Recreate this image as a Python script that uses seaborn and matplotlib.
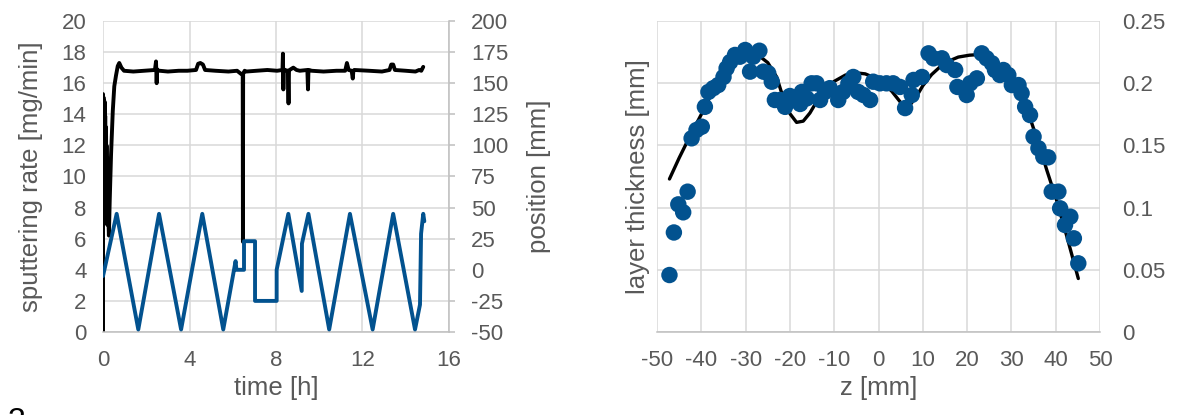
import matplotlib
matplotlib.use("Agg")
import matplotlib.pyplot as plt
import seaborn as sns
import pandas as pd

# ---- left panel: sputtering rate (left axis) and target position (right axis) vs time ----
rate_time = [0.00, 0.00, 0.01, 0.02, 0.03, 0.04, 0.05, 0.06, 0.07, 0.08, 0.09, 0.10,
             0.11, 0.12, 0.13, 0.14, 0.15, 0.16, 0.17, 0.18, 0.19, 0.20, 0.21, 0.22,
             0.27, 0.31, 0.37, 0.45, 0.52, 0.60, 0.68, 0.75, 0.85, 0.97,
             1.40, 1.90, 2.40, 2.45, 2.48, 2.50, 2.55, 2.62, 3.00, 3.50, 3.90,
             4.30, 4.40, 4.50, 4.62, 4.72, 5.20, 5.80, 6.20, 6.38, 6.46, 6.47, 6.48,
             6.55, 6.62, 7.10, 7.60, 8.05, 8.30, 8.32, 8.34, 8.36, 8.40, 8.55, 8.58,
             8.60, 8.63, 8.80, 8.95, 9.10, 9.45, 9.48, 9.50, 9.53, 9.65, 10.20, 10.80,
             11.20, 11.28, 11.36, 11.50, 11.55, 11.58, 11.62, 12.30, 12.90, 13.25,
             13.33, 13.42, 13.50, 14.00, 14.45, 14.62, 14.72, 14.81]
rate_value = [0.0, 15.3, 7.4, 15.1, 7.8, 14.9, 7.2, 14.6, 8.0, 14.8, 7.5, 13.9,
              7.1, 13.2, 7.6, 12.6, 7.0, 12.0, 7.3, 11.2, 6.9, 10.4, 7.0, 8.8,
              6.2, 8.5, 11.4, 14.2, 15.8, 16.5, 17.1, 17.3, 17.0, 16.8,
              16.75, 16.8, 16.85, 17.4, 16.0, 16.9, 16.8, 16.8, 16.75, 16.8, 16.8,
              16.85, 17.25, 17.3, 17.2, 16.85, 16.8, 16.75, 16.8, 16.6, 16.6, 5.8, 16.6,
              16.8, 16.75, 16.8, 16.85, 16.8, 16.85, 17.9, 15.6, 16.9, 16.85, 16.8, 14.7,
              16.8, 16.85, 17.0, 16.85, 16.8, 16.85, 15.6, 16.8, 16.85, 16.8, 16.75, 16.8,
              16.8, 17.3, 16.85, 16.8, 16.3, 16.8, 16.85, 16.8, 16.75, 16.85,
              17.2, 17.2, 16.85, 16.8, 16.75, 16.85, 16.8, 17.05]

pos_time = [0.00, 0.63, 1.63, 2.59, 3.61, 4.59, 5.56, 6.13, 6.17, 6.52, 6.52, 7.03,
            7.03, 8.03, 8.03, 8.57, 9.19, 9.20, 9.50, 10.46, 11.42, 12.47, 13.42,
            14.43, 14.66, 14.71, 14.81, 14.86]
pos_value = [-5, 45, -48, 45, -48, 45, -48, 7, 0, 0, 23, 23,
             -25, -25, 0, 45, -17, 21, 45, -48, 45, -48, 45,
             -48, -28, 29, 45, 39]

rate_ticks = [0, 2, 4, 6, 8, 10, 12, 14, 16, 18, 20]
pos_ticks = [-50, -25, 0, 25, 50, 75, 100, 125, 150, 175, 200]
time_ticks = [0, 4, 8, 12, 16]

# ---- right panel: measured layer thickness and fitted profile vs z ----
z_meas = [-47.2, -46.2, -45.2, -44.1, -43.1, -42.2, -41.1, -39.9, -39.2, -38.4,
          -37.3, -36.2, -35.0, -34.3, -33.5, -32.4, -31.3, -30.1, -29.0, -28.3,
          -26.9, -26.0, -24.9, -24.1, -23.4, -22.2, -21.1, -20.0, -18.5, -17.7,
          -17.3, -16.2, -15.1, -14.0, -13.2, -12.1, -11.0, -9.1, -8.0, -6.8,
          -5.7, -4.6, -3.4, -1.9, -1.2, 0.3, 1.8, 3.3, 4.85, 6.0,
          7.5, 7.9, 9.8, 11.3, 12.4, 14.3, 15.4, 17.3, 17.8, 19.9,
          20.7, 22.2, 23.3, 24.4, 25.6, 26.3, 27.4, 28.2, 29.3, 30.1,
          31.6, 32.3, 33.1, 34.2, 35.0, 36.1, 37.2, 38.3, 39.1, 40.6,
          41.0, 42.1, 43.3, 44.1, 45.1]
t_meas = [0.0458, 0.080, 0.1026, 0.0962, 0.1128, 0.1557, 0.1624, 0.165, 0.181, 0.193,
          0.196, 0.1985, 0.205, 0.212, 0.217, 0.2227, 0.2213, 0.2267, 0.2093, 0.2213,
          0.2261, 0.2093, 0.208, 0.2012, 0.1865, 0.1865, 0.181, 0.1897, 0.1865, 0.1833,
          0.193, 0.1878, 0.1999, 0.1999, 0.1865, 0.193, 0.196, 0.1865, 0.193, 0.1999,
          0.205, 0.193, 0.1905, 0.1865, 0.2012, 0.1999, 0.1999, 0.1999, 0.197, 0.180,
          0.1905, 0.2026, 0.205, 0.224, 0.220, 0.220, 0.2146, 0.2106, 0.197, 0.1905,
          0.1999, 0.2039, 0.224, 0.220, 0.216, 0.2106, 0.2066, 0.2106, 0.2066, 0.1985,
          0.1985, 0.1919, 0.181, 0.1744, 0.157, 0.1477, 0.1409, 0.1404, 0.1128, 0.1128,
          0.0994, 0.086, 0.0927, 0.0753, 0.0552]

z_fit = [-47.2, -45.0, -42.5, -40.0, -37.5, -35.0, -32.5, -30.0, -27.5, -25.0,
         -23.0, -21.5, -20.0, -18.5, -17.0, -15.5, -14.0, -12.0, -10.0, -7.5,
         -5.5, -3.0, -1.0, 1.0, 3.0, 5.0, 6.7, 8.5, 10.0, 12.0,
         14.0, 16.0, 18.0, 20.5, 22.5, 25.0, 28.0, 30.0, 32.0, 34.2,
         36.0, 38.0, 40.2, 42.5, 45.1]
t_fit = [0.123, 0.140, 0.158, 0.175, 0.193, 0.208, 0.219, 0.2245, 0.2235, 0.2165,
         0.205, 0.188, 0.1755, 0.1685, 0.1695, 0.176, 0.185, 0.195, 0.2015, 0.2065,
         0.2085, 0.2075, 0.2045, 0.200, 0.1935, 0.1845, 0.1806, 0.189, 0.198, 0.207,
         0.2135, 0.218, 0.221, 0.2225, 0.223, 0.219, 0.210, 0.203, 0.193, 0.172,
         0.153, 0.130, 0.106, 0.077, 0.043]

z_ticks = [-50, -40, -30, -20, -10, 0, 10, 20, 30, 40, 50]
thick_ticks = [0, 0.05, 0.10, 0.15, 0.20, 0.25]
thick_labels = ["0", "0.05", "0.1", "0.15", "0.2", "0.25"]

# ---- styling ----
sns.set_theme(style="white")
plt.rcParams["font.family"] = ["Liberation Sans", "DejaVu Sans"]
plt.rcParams["axes.unicode_minus"] = False

TXT = "#595959"
GRID = "#d9d9d9"
AXLINE = "#bfbfbf"
BLUE = "#02528f"
FS = 16        # tick labels
FS_T = 18.5    # axis titles

fig = plt.figure(figsize=(11.79, 4.15), dpi=100)
fig.patch.set_facecolor("white")

ax1 = fig.add_axes([0.0874, 0.2, 0.2934, 0.7494])
ax1r = ax1.twinx()
ax2 = fig.add_axes([0.5573, 0.2, 0.3757, 0.7494])

rate_df = pd.DataFrame({"time": rate_time, "rate": rate_value})
pos_df = pd.DataFrame({"time": pos_time, "pos": pos_value})

sns.lineplot(data=rate_df, x="time", y="rate", ax=ax1, sort=False, estimator=None,
             color="black", linewidth=2.8)
sns.lineplot(data=pos_df, x="time", y="pos", ax=ax1r, sort=False, estimator=None,
             color=BLUE, linewidth=2.8)

ax1.set_xlim(0, 16)
ax1.set_ylim(0, 20)
ax1r.set_ylim(-50, 200)
ax1.set_xticks(time_ticks)
ax1.set_yticks(rate_ticks)
ax1r.set_yticks(pos_ticks)
ax1.grid(True, color=GRID, linewidth=1.1)
ax1.set_axisbelow(True)

for a in (ax1, ax1r):
    for s in a.spines.values():
        s.set_visible(False)
ax1r.spines["right"].set_visible(True)
ax1r.spines["right"].set_color(AXLINE)
ax1r.spines["right"].set_linewidth(1.1)
ax1.spines["bottom"].set_visible(True)
ax1.spines["bottom"].set_color(AXLINE)
ax1.spines["bottom"].set_linewidth(1.1)

ax1.tick_params(axis="both", length=0, labelsize=FS, labelcolor=TXT)
ax1.tick_params(axis="y", pad=12)
ax1.tick_params(axis="x", pad=13)
ax1r.tick_params(axis="y", direction="out", length=4, width=1.1, color=AXLINE,
                 labelsize=FS, labelcolor=TXT, pad=12)

ax1.set_xlabel("time [h]", fontsize=FS_T, color=TXT)
ax1.set_ylabel("sputtering rate [mg/min]", fontsize=FS_T, color=TXT)
ax1r.set_ylabel("position [mm]", fontsize=FS_T, color=TXT, rotation=90)
ax1.xaxis.set_label_coords(0.5, -0.14)
ax1.yaxis.set_label_coords(-0.173, 0.5)
ax1r.yaxis.set_label_coords(1.225, 0.5)

fit_df = pd.DataFrame({"z": z_fit, "t": t_fit})
meas_df = pd.DataFrame({"z": z_meas, "t": t_meas})
sns.lineplot(data=fit_df, x="z", y="t", ax=ax2, sort=False, estimator=None,
             color="black", linewidth=2.4, zorder=2)
sns.scatterplot(data=meas_df, x="z", y="t", ax=ax2, color=BLUE, s=140,
                edgecolor="none", linewidth=0, zorder=3)

ax2.set_xlim(-50, 50)
ax2.set_ylim(0, 0.25)
ax2.set_xticks(z_ticks)
ax2.set_yticks(thick_ticks)
ax2.set_yticklabels(thick_labels)
ax2.yaxis.tick_right()
ax2.yaxis.set_label_position("left")
ax2.grid(True, color=GRID, linewidth=1.1)
ax2.set_axisbelow(True)
for s in ax2.spines.values():
    s.set_visible(False)
ax2.spines["bottom"].set_visible(True)
ax2.spines["bottom"].set_color(AXLINE)
ax2.spines["bottom"].set_linewidth(1.1)
ax2.tick_params(axis="both", length=0, labelsize=FS, labelcolor=TXT)
ax2.tick_params(axis="y", pad=16)
ax2.tick_params(axis="x", pad=13)
ax2.set_xlabel("z [mm]", fontsize=FS_T, color=TXT)
ax2.set_ylabel("layer thickness [mm]", fontsize=FS_T, color=TXT)
ax2.xaxis.set_label_coords(0.5, -0.14)
ax2.yaxis.set_label_coords(-0.017, 0.5)

fig.text(8 / 1179, -0.036, "3", fontsize=23, color="black", va="baseline", ha="left")

fig.savefig("out.png", dpi=100)
